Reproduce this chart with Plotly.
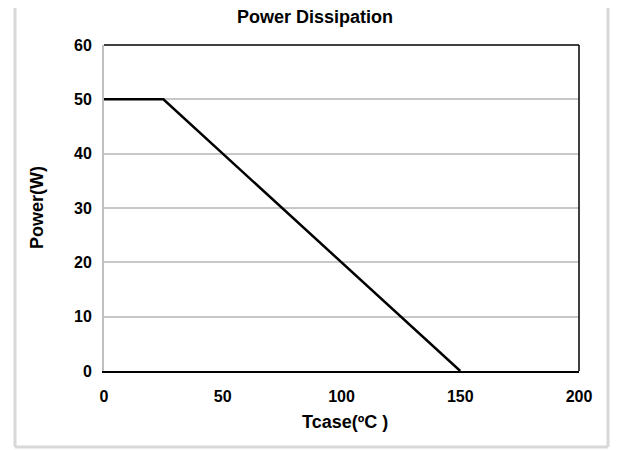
import plotly.graph_objects as go

tcase = [0, 25, 150]
power = [50, 50, 0]
x_ticks = [0, 50, 100, 150, 200]
y_ticks = [0, 10, 20, 30, 40, 50, 60]

# page has an 8px body margin; compensate so the drawing lands at the reference spots
OFF = 8
W, H = 624 - OFF, 450 - OFF
L, R, T, B = 104 - OFF, 45, 45 - OFF, 79
pw, ph = W - L - R, H - T - B

def px(x):
    return (x - OFF - L) / pw

def py(y):
    return (H - B - (y - OFF)) / ph

FONT = "Liberation Sans"
FRAME = dict(color="#d8d8d8", width=3)

fig = go.Figure()
fig.add_trace(go.Scatter(x=tcase, y=power, mode="lines",
                         line=dict(color="black", width=2.5),
                         showlegend=False, hoverinfo="skip"))

fig.update_layout(
    width=W, height=H,
    margin=dict(l=L, r=R, t=T, b=B),
    paper_bgcolor="white", plot_bgcolor="white",
    font=dict(family=FONT, size=16, color="black"),
    xaxis=dict(range=[0, 200], tickvals=x_ticks, showgrid=False, zeroline=False,
               showline=True, linecolor="black", linewidth=2,
               ticks="", ticklabelstandoff=10,
               tickfont=dict(family=FONT, size=16, color="black", weight="bold")),
    yaxis=dict(range=[0, 60], tickvals=y_ticks, showgrid=True,
               gridcolor="#c8c8c8", gridwidth=1.5, zeroline=False,
               showline=True, linecolor="#c0c0c0", linewidth=2,
               ticks="", ticklabelstandoff=7,
               tickfont=dict(family=FONT, size=16, color="black", weight="bold")),
    shapes=[
        dict(type="line", xref="paper", yref="paper", x0=0, x1=1, y0=1, y1=1,
             line=dict(color="black", width=1.5)),
        dict(type="line", xref="paper", yref="paper", x0=1, x1=1, y0=0, y1=1,
             line=dict(color="black", width=1.5)),
        dict(type="line", xref="paper", yref="paper",
             x0=px(15), x1=px(15), y0=py(447), y1=py(-5), line=FRAME),
        dict(type="line", xref="paper", yref="paper",
             x0=px(608), x1=px(608), y0=py(447), y1=py(-5), line=FRAME),
        dict(type="line", xref="paper", yref="paper",
             x0=px(15), x1=px(608), y0=py(447), y1=py(447), line=FRAME),
    ],
    annotations=[
        dict(text="<b>Power Dissipation</b>", xref="paper", yref="paper",
             x=px(315), y=py(17), showarrow=False, xanchor="center", yanchor="middle",
             font=dict(family=FONT, size=18, color="black")),
        dict(text="<b>Tcase(ºC )</b>", xref="paper", yref="paper",
             x=px(345), y=py(422), showarrow=False, xanchor="center", yanchor="middle",
             font=dict(family=FONT, size=18, color="black")),
        dict(text="<b>Power(W)</b>", xref="paper", yref="paper",
             x=px(37), y=py(208), showarrow=False, xanchor="center", yanchor="middle",
             textangle=-90, font=dict(family=FONT, size=18, color="black")),
    ],
)

fig.write_html("out.html")
